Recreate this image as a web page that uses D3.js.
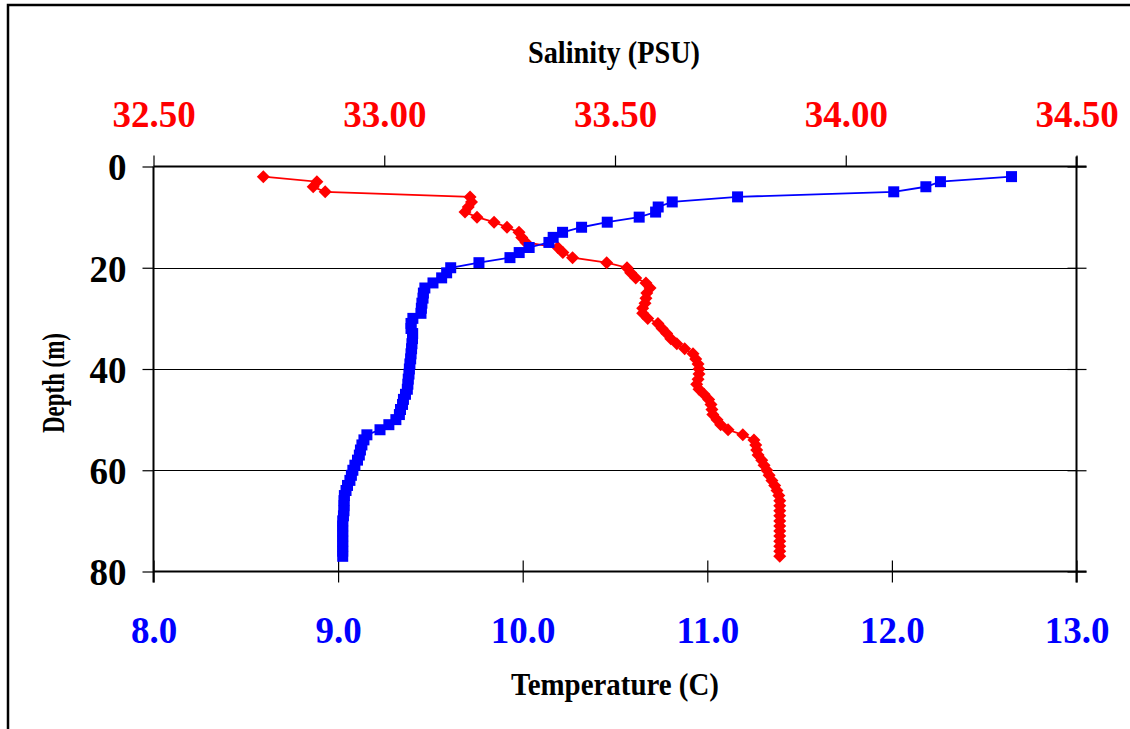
<!DOCTYPE html>
<html>
<head>
<meta charset="utf-8">
<script src="https://cdn.jsdelivr.net/npm/d3@7"></script>
<style>
  html, body { margin: 0; padding: 0; background: #fff; }
  svg { display: block; }
  text { font-family: "Liberation Serif", "Times New Roman", serif; font-weight: bold; }
</style>
</head>
<body>
<svg id="chart" width="1130" height="729"></svg>
<script>
// CTD cast: depth in metres, temperature (C) and salinity (PSU)
const depths = [
  2, 3, 4, 5, 6, 7, 8, 9, 10, 11, 12, 13, 14, 15, 16, 17, 18, 19, 20,
  21, 22, 23, 24, 25, 26, 27, 28, 29, 30, 31, 32, 33, 34, 35, 36, 37, 38, 39, 40,
  41, 42, 43, 44, 45, 46, 47, 48, 49, 50, 51, 52, 53, 54, 55, 56, 57, 58, 59, 60,
  61, 62, 63, 64, 65, 66, 67, 68, 69, 70, 71, 72, 73, 74, 75, 76, 77
];
const temperature = [
  12.648, 12.263, 12.184, 12.010, 11.164, 10.810, 10.734, 10.720, 10.631, 10.458,
  10.319, 10.216, 10.165, 10.142, 10.035, 9.981, 9.931, 9.763, 9.610,
  9.588, 9.561, 9.514, 9.470, 9.462, 9.460, 9.454, 9.451, 9.449, 9.405,
  9.395, 9.395, 9.404, 9.403, 9.400, 9.398, 9.395, 9.393, 9.389, 9.386,
  9.384, 9.380, 9.378, 9.375, 9.365, 9.354, 9.349, 9.338, 9.332, 9.313,
  9.275, 9.227, 9.156, 9.140, 9.129, 9.121, 9.115, 9.105, 9.091, 9.080,
  9.072, 9.064, 9.051, 9.043, 9.034, 9.032, 9.032, 9.032, 9.029, 9.025,
  9.025, 9.025, 9.025, 9.025, 9.025, 9.025, 9.025
];
const salinity = [
  32.738, 32.854, 32.846, 32.872, 33.186, 33.189, 33.182, 33.175, 33.201, 33.238,
  33.266, 33.292, 33.298, 33.307, 33.376, 33.387, 33.408, 33.482, 33.526,
  33.534, 33.545, 33.567, 33.576, 33.569, 33.567, 33.565, 33.560, 33.560, 33.571,
  33.593, 33.602, 33.612, 33.621, 33.634, 33.651, 33.669, 33.675, 33.680, 33.682,
  33.682, 33.680, 33.677, 33.682, 33.693, 33.703, 33.708, 33.710, 33.712, 33.721,
  33.729, 33.745, 33.777, 33.801, 33.805, 33.807, 33.810, 33.818, 33.823, 33.829,
  33.834, 33.840, 33.846, 33.851, 33.855, 33.857, 33.857, 33.857, 33.857, 33.857,
  33.857, 33.857, 33.857, 33.857, 33.857, 33.857, 33.857
];

// Axis ticks and labels
const depthTicks = [0, 20, 40, 60, 80];
const tempTicks = [8, 9, 10, 11, 12, 13];
const salTicks = [32.5, 33.0, 33.5, 34.0, 34.5];
const titleSalinity = "Salinity (PSU)";
const titleTemperature = "Temperature (C)";
const titleDepth = "Depth (m)";

const RED = "#ff0000", BLUE = "#0000ff";

const svg = d3.select("#chart");
const plot = { left: 153.5, right: 1076.5, top: 166.5, bottom: 571.5 };

const y = d3.scaleLinear().domain([0, 80]).range([plot.top, plot.bottom]);
const xT = d3.scaleLinear().domain([8, 13]).range([plot.left, plot.right]);
const xS = d3.scaleLinear().domain([32.5, 34.5]).range([plot.left, plot.right]);

// Outer chart frame
svg.append("rect")
  .attr("x", 8).attr("y", 5).attr("width", 1200).attr("height", 800)
  .attr("fill", "none").attr("stroke", "#000").attr("stroke-width", 2.5);

// Horizontal gridlines
svg.append("g").selectAll("line")
  .data(depthTicks.filter(d => d > 0 && d < 80)).join("line")
  .attr("x1", plot.left).attr("x2", plot.right)
  .attr("y1", d => Math.round(y(d)) + 0.5).attr("y2", d => Math.round(y(d)) + 0.5)
  .attr("stroke", "#000").attr("stroke-width", 1.2);

// Left depth axis (outer ticks, bold labels)
const leftAxis = svg.append("g")
  .attr("transform", `translate(${plot.left},0)`)
  .call(d3.axisLeft(y).tickValues(depthTicks).tickSize(11).tickPadding(16).tickFormat(d3.format("d")));

// Right secondary axis (crossing ticks, no labels)
const rightAxis = svg.append("g")
  .attr("transform", `translate(${plot.right},0)`)
  .call(d3.axisRight(y).tickValues(depthTicks).tickSize(10).tickFormat(""));
rightAxis.selectAll(".tick line").attr("x1", -9);

// Top salinity axis
const topAxis = svg.append("g")
  .attr("transform", `translate(0,${plot.top})`)
  .call(d3.axisTop(xS).tickValues(salTicks).tickSize(11).tickPadding(29).tickFormat(d3.format(".2f")));

// Bottom temperature axis (crossing ticks)
const bottomAxis = svg.append("g")
  .attr("transform", `translate(0,${plot.bottom})`)
  .call(d3.axisBottom(xT).tickValues(tempTicks).tickSize(11).tickPadding(34).tickFormat(d3.format(".1f")));
bottomAxis.selectAll(".tick line").attr("y1", -11);

[leftAxis, rightAxis, topAxis, bottomAxis].forEach(g => {
  g.select(".domain").attr("stroke", "#000").attr("stroke-width", 2);
  g.selectAll(".tick line").attr("stroke", "#000").attr("stroke-width", 1.2);
  g.selectAll(".tick text").attr("font-family", "Liberation Serif, serif")
    .attr("font-weight", "bold").attr("font-size", 37);
});
leftAxis.selectAll(".tick text").attr("fill", "#000").attr("dy", "0.36em");
topAxis.selectAll(".tick text").attr("fill", RED);
bottomAxis.selectAll(".tick text").attr("fill", BLUE).attr("dy", "0.71em");
// keep the outer axis domain lines spanning the tick extents
topAxis.select(".domain").attr("d", `M${plot.left},0H${plot.right + 10}`);
bottomAxis.select(".domain").attr("d", `M${plot.left},0H${plot.right + 10}`);
leftAxis.select(".domain").attr("d", `M0,${plot.top}V${plot.bottom + 11}`);
rightAxis.select(".domain").attr("d", `M0,${plot.top - 10}V${plot.bottom + 11}`);

// Axis titles
svg.append("text")
  .attr("x", 614).attr("y", 63).attr("text-anchor", "middle")
  .attr("font-size", 32).attr("textLength", 172).attr("lengthAdjust", "spacingAndGlyphs")
  .text(titleSalinity);
svg.append("text")
  .attr("x", 615).attr("y", 695).attr("text-anchor", "middle")
  .attr("font-size", 32).attr("textLength", 208).attr("lengthAdjust", "spacingAndGlyphs")
  .text(titleTemperature);
svg.append("text")
  .attr("transform", "translate(64,383) rotate(-90)")
  .attr("text-anchor", "middle")
  .attr("font-size", 31).attr("textLength", 100).attr("lengthAdjust", "spacingAndGlyphs")
  .text(titleDepth);

// Profiles
const tempData = depths.map((d, i) => ({ depth: d, value: temperature[i] }));
const salData = depths.map((d, i) => ({ depth: d, value: salinity[i] }));

const tempLine = d3.line().x(d => xT(d.value)).y(d => y(d.depth));
const salLine = d3.line().x(d => xS(d.value)).y(d => y(d.depth));

svg.append("path").datum(salData)
  .attr("d", salLine).attr("fill", "none").attr("stroke", RED).attr("stroke-width", 1.8);
svg.append("path").datum(tempData)
  .attr("d", tempLine).attr("fill", "none").attr("stroke", BLUE).attr("stroke-width", 1.8);

// Salinity markers: diamonds
svg.append("g").selectAll("path")
  .data(salData).join("path")
  .attr("transform", d => `translate(${xS(d.value)},${y(d.depth)})`)
  .attr("d", "M0,-6.5L6.5,0L0,6.5L-6.5,0Z")
  .attr("fill", RED);

// Temperature markers: squares
svg.append("g").selectAll("rect")
  .data(tempData).join("rect")
  .attr("x", d => xT(d.value) - 5.5).attr("y", d => y(d.depth) - 5.5)
  .attr("width", 11).attr("height", 11)
  .attr("fill", BLUE);
</script>
</body>
</html>
